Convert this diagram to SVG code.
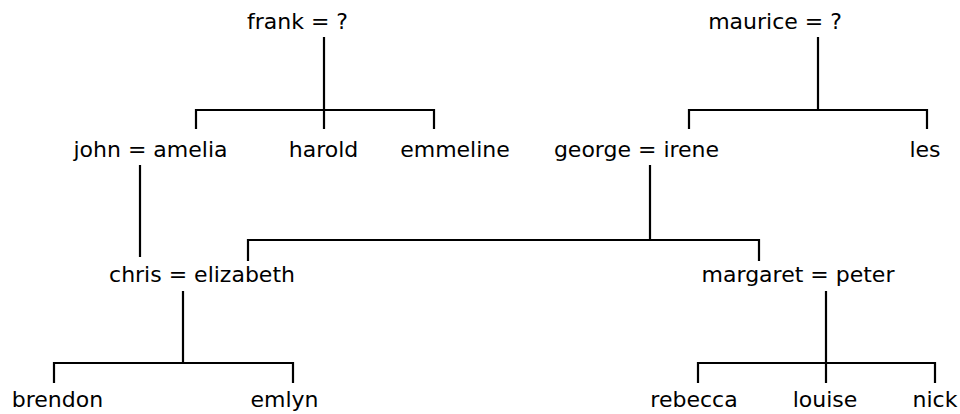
<svg xmlns="http://www.w3.org/2000/svg" width="960" height="414" viewBox="0 0 960 414">
<style>
text{font-family:"DejaVu Sans","Liberation Sans",sans-serif;font-size:22px;fill:#000;text-anchor:middle}
.c path{fill:none;stroke:#000;stroke-width:2.2}
</style>
<rect width="960" height="414" fill="#fff"/>
<g id="frank"><text x="297.5" y="29">frank = ?</text></g>
<g id="maurice"><text x="775" y="29">maurice = ?</text></g>
<g id="john"><text x="150.5" y="157">john = amelia</text></g>
<g id="harold"><text x="323.5" y="157">harold</text></g>
<g id="emmeline"><text x="455" y="157">emmeline</text></g>
<g id="george"><text x="636.5" y="157">george = irene</text></g>
<g id="les"><text x="925" y="157">les</text></g>
<g id="chris"><text x="202" y="282">chris = elizabeth</text></g>
<g id="margaret"><text x="798" y="282">margaret = peter</text></g>
<g id="brendon"><text x="57.5" y="407">brendon</text></g>
<g id="emlyn"><text x="284.5" y="407">emlyn</text></g>
<g id="rebecca"><text x="694" y="407">rebecca</text></g>
<g id="louise"><text x="825" y="407">louise</text></g>
<g id="nick"><text x="935" y="407">nick</text></g>
<g class="c" id="connectors">
<path d="M324 37V129M196 129V110H434V129"/>
<path d="M818 37V110M689 129V110H927V129"/>
<path d="M140 165V257"/>
<path d="M650 165V240M248 261V240H759V261"/>
<path d="M183 291V363M54 383V363H293V383"/>
<path d="M826 291V383M698 383V363H935V383"/>
</g>
</svg>
